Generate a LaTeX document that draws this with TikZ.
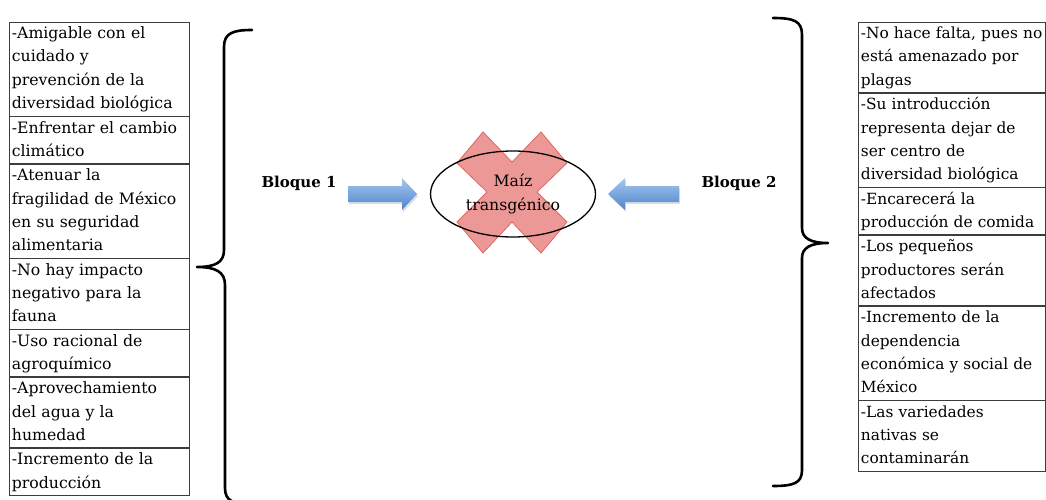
\documentclass[tikz,border=0pt]{standalone}
\usepackage{fontspec}
\setmainfont{DejaVu Serif}
\usetikzlibrary{shapes.geometric}
\definecolor{cellline}{RGB}{60,60,60}
\definecolor{arrowtop}{RGB}{165,200,238}
\definecolor{arrowbottom}{RGB}{78,132,204}
\definecolor{crossfill}{RGB}{236,152,150}
\definecolor{crossline}{RGB}{226,102,98}
% strut giving each text line a band of 23.4pt
\newcommand\rowstrut{\rule[-7.2pt]{0pt}{23.4pt}}
\begin{document}
\begin{tikzpicture}[x=1pt,y=-1pt,
  cell/.style={draw=cellline, line width=0.8pt, inner xsep=2.5pt, inner ysep=0pt,
    align=left, anchor=north west},
  leftcell/.style={cell, text width=175pt, font=\fontsize{15.7}{23.4}\selectfont},
  rightcell/.style={cell, text width=182pt, font=\fontsize{15.4}{23.4}\selectfont},
  brace/.style={line width=2.6pt, line cap=round, line join=round},
  blockarrow/.style={top color=arrowtop, bottom color=arrowbottom, draw=none},
  arrowshadow/.style={fill=black, opacity=0.13},
  blocklabel/.style={font=\fontsize{15}{18}\selectfont\bfseries},
]
\useasboundingbox (0,0) rectangle (1046,500);

% left column of arguments
\node[leftcell] (l1) at (9,22) {\rowstrut-Amigable con el\\cuidado y\\prevención de la\\diversidad biológica\rowstrut};
\node[leftcell] (l2) at (l1.south west) {\rowstrut-Enfrentar el cambio\\climático\rowstrut};
\node[leftcell] (l3) at (l2.south west) {\rowstrut-Atenuar la\\fragilidad de México\\en su seguridad\\alimentaria\rowstrut};
\node[leftcell] (l4) at (l3.south west) {\rowstrut-No hay impacto\\negativo para la\\fauna\rowstrut};
\node[leftcell] (l5) at (l4.south west) {\rowstrut-Uso racional de\\agroquímico\rowstrut};
\node[leftcell] (l6) at (l5.south west) {\rowstrut-Aprovechamiento\\del agua y la\\humedad\rowstrut};
\node[leftcell] (l7) at (l6.south west) {\rowstrut-Incremento de la\\producción\rowstrut};

% right column of arguments
\node[rightcell] (r1) at (858,22) {\rowstrut\mbox{-No hace falta, pues no}\\está amenazado por\\plagas\rowstrut};
\node[rightcell] (r2) at (r1.south west) {\rowstrut-Su introducción\\representa dejar de\\ser centro de\\\mbox{diversidad biológica}\rowstrut};
\node[rightcell] (r3) at (r2.south west) {\rowstrut-Encarecerá la\\\mbox{producción de comida}\rowstrut};
\node[rightcell] (r4) at (r3.south west) {\rowstrut-Los pequeños\\productores serán\\afectados\rowstrut};
\node[rightcell] (r5) at (r4.south west) {\rowstrut-Incremento de la\\dependencia\\\mbox{económica y social de}\\México\rowstrut};
\node[rightcell] (r6) at (r5.south west) {\rowstrut-Las variedades\\nativas se\\contaminarán\rowstrut};

% curly braces
\draw[brace] (252,30) .. controls (233,30) and (224,33) .. (224,47)
  -- (224,250) .. controls (224,262) and (216,267) .. (197,267)
  .. controls (216,267) and (225,272) .. (225,285)
  -- (225,488) .. controls (225,501) and (233,504) .. (252,504);
\draw[brace] (773,18) .. controls (794,18) and (802,21) .. (802,35)
  -- (802,228) .. controls (802,238) and (810,243) .. (828,243)
  .. controls (810,243) and (802,248) .. (802,258)
  -- (802,470) .. controls (802,483) and (794,486) .. (773,486);

% block labels
\node[blocklabel] (b1) at (299,183) {Bloque 1};
\node[blocklabel] (b2) at (739,183) {Bloque 2};

% block arrows
\fill[arrowshadow, shift={(1.2,2)}] (348,186) -- (402,186) -- (402,178) -- (417,194)
  -- (402,210) -- (402,202) -- (348,202) -- cycle;
\shade[blockarrow] (348,186) -- (402,186) -- (402,178) -- (417,194)
  -- (402,210) -- (402,202) -- (348,202) -- cycle;
\fill[arrowshadow, shift={(1.2,2)}] (679,186) -- (625,186) -- (625,178) -- (608,194)
  -- (625,210) -- (625,202) -- (679,202) -- cycle;
\shade[blockarrow] (679,186) -- (625,186) -- (625,178) -- (608,194)
  -- (625,210) -- (625,202) -- (679,202) -- cycle;

% crossing-out mark
\filldraw[fill=crossfill, draw=crossline, line width=0.8pt, line join=miter]
  (483,132) -- (512,162) -- (541,132) -- (567,163) -- (537,192) -- (567,222)
  -- (541,253) -- (512,222) -- (483,253) -- (457,222) -- (487,192) -- (457,163) -- cycle;

% central ellipse
\node[ellipse, draw, line width=1.3pt, minimum width=165pt, minimum height=86pt,
  align=center, inner sep=0pt, font=\fontsize{15.7}{23.4}\selectfont] (maiz) at (513,194)
  {\rowstrut Maíz\\transgénico\rowstrut};
\end{tikzpicture}
\end{document}
